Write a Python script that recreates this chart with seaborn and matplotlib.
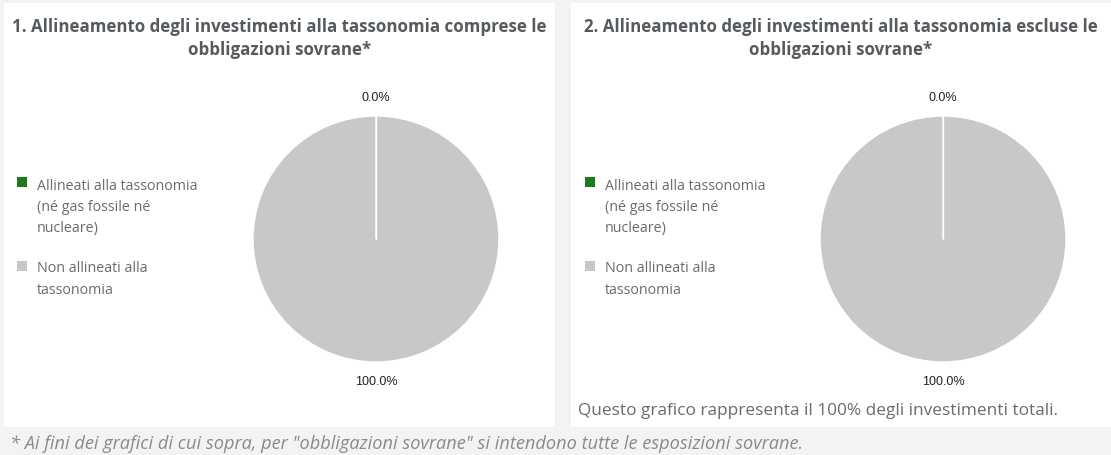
import matplotlib
matplotlib.use('Agg')
import matplotlib.pyplot as plt
from matplotlib.patches import Rectangle
import numpy as np
import seaborn as sns

# data
categories = ['Allineati alla tassonomia\n(né gas fossile né\nnucleare)',
              'Non allineati alla\ntassonomia']
incl_sovereign = [0.0, 100.0]
excl_sovereign = [0.0, 100.0]
colors = ['#1e7a1e', '#c8c8c8']
titles = ['1. Allineamento degli investimenti alla tassonomia comprese le\nobbligazioni sovrane*',
          '2. Allineamento degli investimenti alla tassonomia escluse le\nobbligazioni sovrane*']
note = 'Questo grafico rappresenta il 100% degli investimenti totali.'
footnote = '* Ai fini dei grafici di cui sopra, per "obbligazioni sovrane" si intendono tutte le esposizioni sovrane.'

sns.set_theme(style='white')
plt.rcParams['font.family'] = ['Open Sans', 'DejaVu Sans']

W, H = 1111, 456
fig = plt.figure(figsize=(W / 100, H / 100), dpi=100)
fig.patch.set_facecolor('#f3f3f3')


def fx(x):
    return x / W


def fy(y):
    return 1 - y / H


# white panels
panels = [(4, 555), (571, 1111)]
for x0, x1 in panels:
    fig.add_artist(Rectangle((fx(x0), fy(428)), fx(x1 - x0), (428 - 4) / H,
                             transform=fig.transFigure, facecolor='white',
                             edgecolor='none', zorder=0))

pie_centers = [376, 943]
radius = 123
for i, values in enumerate([incl_sovereign, excl_sovereign]):
    x0, x1 = panels[i]
    cx = pie_centers[i]
    # title
    fig.text(fx((x0 + x1) / 2), fy(38.5), titles[i], ha='center', va='center',
             fontsize=12.2, fontweight='bold', color='#555a5f', linespacing=1.3)
    # pie
    ax = fig.add_axes([fx(cx - radius), fy(240 + radius), fx(2 * radius), 2 * radius / H])
    wedges = ax.pie(values, colors=colors, startangle=90, counterclock=False,
                    wedgeprops=dict(edgecolor='white', linewidth=1))[0]
    wedges[0].set_zorder(5)
    # white separator at the start angle (edge of the empty wedge)
    ax.plot([0, 0], [0, 1], color='white', lw=1, zorder=6)
    # percentage labels outside
    for w, v in zip(wedges, values):
        ang = np.radians((w.theta1 + w.theta2) / 2)
        r = 1.155
        ax.text(r * np.cos(ang), r * np.sin(ang), f'{v:.1f}%',
                ha='center', va='center', fontsize=9, color='#222222',
                family=['Liberation Sans', 'DejaVu Sans'], clip_on=False)
    ax.set_xlim(-1, 1)
    ax.set_ylim(-1, 1)
    ax.set_aspect('equal')
    ax.axis('off')
    # legend
    lx = x0 + 13 if i == 0 else x0 + 14
    for j, (lab, col) in enumerate(zip(categories, colors)):
        my = [183, 267][j]
        ty = [207.5, 279.5][j]
        fig.add_artist(Rectangle((fx(lx), fy(my + 5)), fx(10), 10 / H,
                                 transform=fig.transFigure, facecolor=col,
                                 edgecolor='none'))
        fig.text(fx(lx + 20), fy(ty), lab, ha='left', va='center', fontsize=10.3,
                 color='#6b6b6b', linespacing=1.55)

fig.text(fx(578), fy(411), note, ha='left', va='center', fontsize=12.4,
         color='#6b6b6b')
fig.text(fx(10), fy(444), footnote, ha='left', va='center', fontsize=13.1,
         color='#8a8a8a', style='italic')

fig.savefig('out.png', dpi=100, facecolor=fig.get_facecolor())
